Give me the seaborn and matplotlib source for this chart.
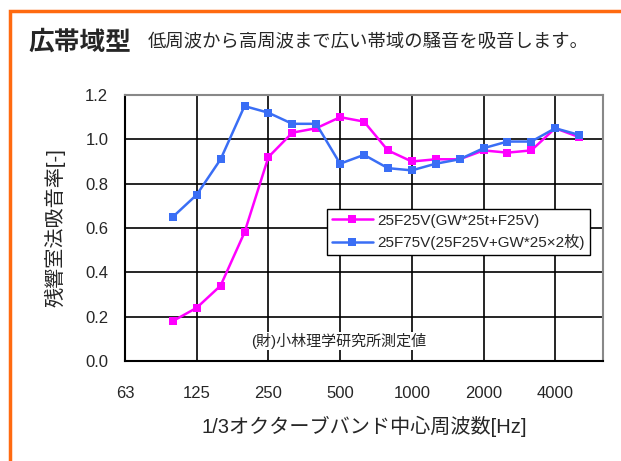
import matplotlib
matplotlib.use("Agg")
import matplotlib.pyplot as plt
import pandas as pd
import seaborn as sns
from matplotlib.patches import Rectangle

# 1/3 octave band centre frequencies (Hz)
bands = ["63", "80", "100", "125", "160", "200", "250", "315", "400", "500", "630",
         "800", "1000", "1250", "1600", "2000", "2500", "3150", "4000", "5000", "6300"]
freqs = bands[2:20]

series_a_name = "25F25V(GW*25t+F25V)"
series_a = [0.18, 0.24, 0.34, 0.58, 0.92, 1.03, 1.05, 1.10, 1.08, 0.95,
            0.90, 0.91, 0.91, 0.95, 0.94, 0.95, 1.05, 1.01]
series_b_name = "25F75V(25F25V+GW*25×2枚)"
series_b = [0.65, 0.75, 0.91, 1.15, 1.12, 1.07, 1.07, 0.89, 0.93, 0.87,
            0.86, 0.89, 0.91, 0.96, 0.99, 0.99, 1.05, 1.02]

tick_labels = ["63", "125", "250", "500", "1000", "2000", "4000"]
y_ticks = [0.0, 0.2, 0.4, 0.6, 0.8, 1.0, 1.2]

sns.set_style("white")
plt.rcParams['font.family'] = ['Liberation Sans', 'Noto Sans CJK JP', 'DejaVu Sans']

df = pd.DataFrame({
    "x": [bands.index(f) for f in freqs] * 2,
    "y": series_a + series_b,
    "series": [series_a_name] * len(freqs) + [series_b_name] * len(freqs),
})

fig = plt.figure(figsize=(6.21, 4.61), dpi=100)
ax = fig.add_axes([125 / 621, 1 - 361 / 461, 478 / 621, 266 / 461])

sns.lineplot(data=df, x="x", y="y", hue="series",
             palette=["#FF00FF", "#3A6EF5"], marker="s", markersize=6,
             markeredgewidth=0, linewidth=1.8, ax=ax)

ax.set_xlim(0, 20)
ax.set_ylim(0, 1.2)
ax.set_xticks([bands.index(t) for t in tick_labels])
ax.set_xticklabels(tick_labels, fontsize=12)
ax.set_yticks(y_ticks)
ax.set_yticklabels([f"{v:.1f}" for v in y_ticks], fontsize=12)
ax.tick_params(axis="x", pad=18, length=0)
ax.tick_params(axis="y", pad=12, length=0)
ax.grid(True, color="black", linewidth=1.2)
for s in ["left", "bottom"]:
    ax.spines[s].set_color("black")
    ax.spines[s].set_linewidth(1.5)
for s in ["top", "right"]:
    ax.spines[s].set_color("#888888")
    ax.spines[s].set_linewidth(1.5)

xl = ax.set_xlabel("1/3オクターブバンド中心周波数[Hz]", fontsize=14.5)
xl.set_va("center")
ax.xaxis.set_label_coords(0.5, (361 - 426) / 266)
yl = ax.set_ylabel("残響室法吸音率[-]", fontsize=14.5)
yl.set_va("center")
ax.yaxis.set_label_coords((55 - 125) / 478, 0.5)

leg = ax.legend(loc="upper left", bbox_to_anchor=(202 / 478, 152 / 266), fontsize=11,
                frameon=True, fancybox=False, borderpad=0.3, handlelength=2.7,
                labelspacing=0.45, handletextpad=0.3, borderaxespad=0)
leg.get_frame().set_edgecolor("black")
leg.get_frame().set_linewidth(1.0)
leg.get_frame().set_alpha(1)

ax.text(8.95, 0.09, "(財)小林理学研究所測定値", fontsize=10.8, ha="center", va="center",
        bbox=dict(facecolor="white", edgecolor="none", pad=1))

# orange frame and heading
fig.patches.append(Rectangle((10 / 621, -0.1), 1.2, 1 - 11 / 461 + 0.1,
                             transform=fig.transFigure, fill=False,
                             edgecolor="#FF6A10", linewidth=2.5))
fig.text(28 / 621, 1 - 42 / 461, "広帯域型", fontsize=18.5, fontweight="bold", va="center")
fig.text(148 / 621, 1 - 43 / 461, "低周波から高周波まで広い帯域の騒音を吸音します。",
         fontsize=13.2, va="center")

fig.savefig("out.png", dpi=100)
